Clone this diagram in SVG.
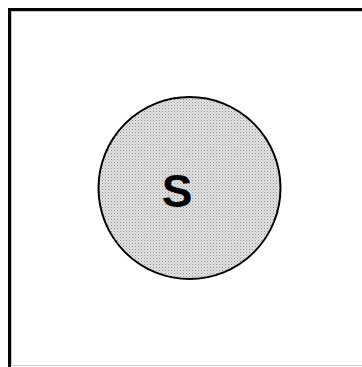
<svg xmlns="http://www.w3.org/2000/svg" width="362" height="367" viewBox="0 0 362 367">
<defs>
<pattern id="dots" width="3" height="3" patternUnits="userSpaceOnUse">
<rect width="3" height="3" fill="#e4e4e4"/>
<rect x="0" y="0" width="1" height="1" fill="#8a8a8a"/>
<rect x="1.5" y="1.5" width="1" height="1" fill="#a8a8a8"/>
</pattern>
<style>
.frame{fill:none;stroke:#000;stroke-width:3}
.edge{fill:none;stroke:#c8c8c8;stroke-width:1}
.node{fill:url(#dots);stroke:#000;stroke-width:2}
.lbl{font-family:"Liberation Sans",Arial,sans-serif;font-weight:bold;font-size:46px;fill:#000}
</style>
</defs>
<g id="frame">
<path class="edge" d="M11 11.5H362M11.5 11V366M11 365.5H362"/>
<path class="frame" d="M9.5 367V9.5H362"/>
</g>
<g id="node-S">
<circle class="node" cx="189.5" cy="188" r="91"/>
<text class="lbl" x="177" y="207" text-anchor="middle">S</text>
</g>
<g id="connectors"></g>
</svg>
